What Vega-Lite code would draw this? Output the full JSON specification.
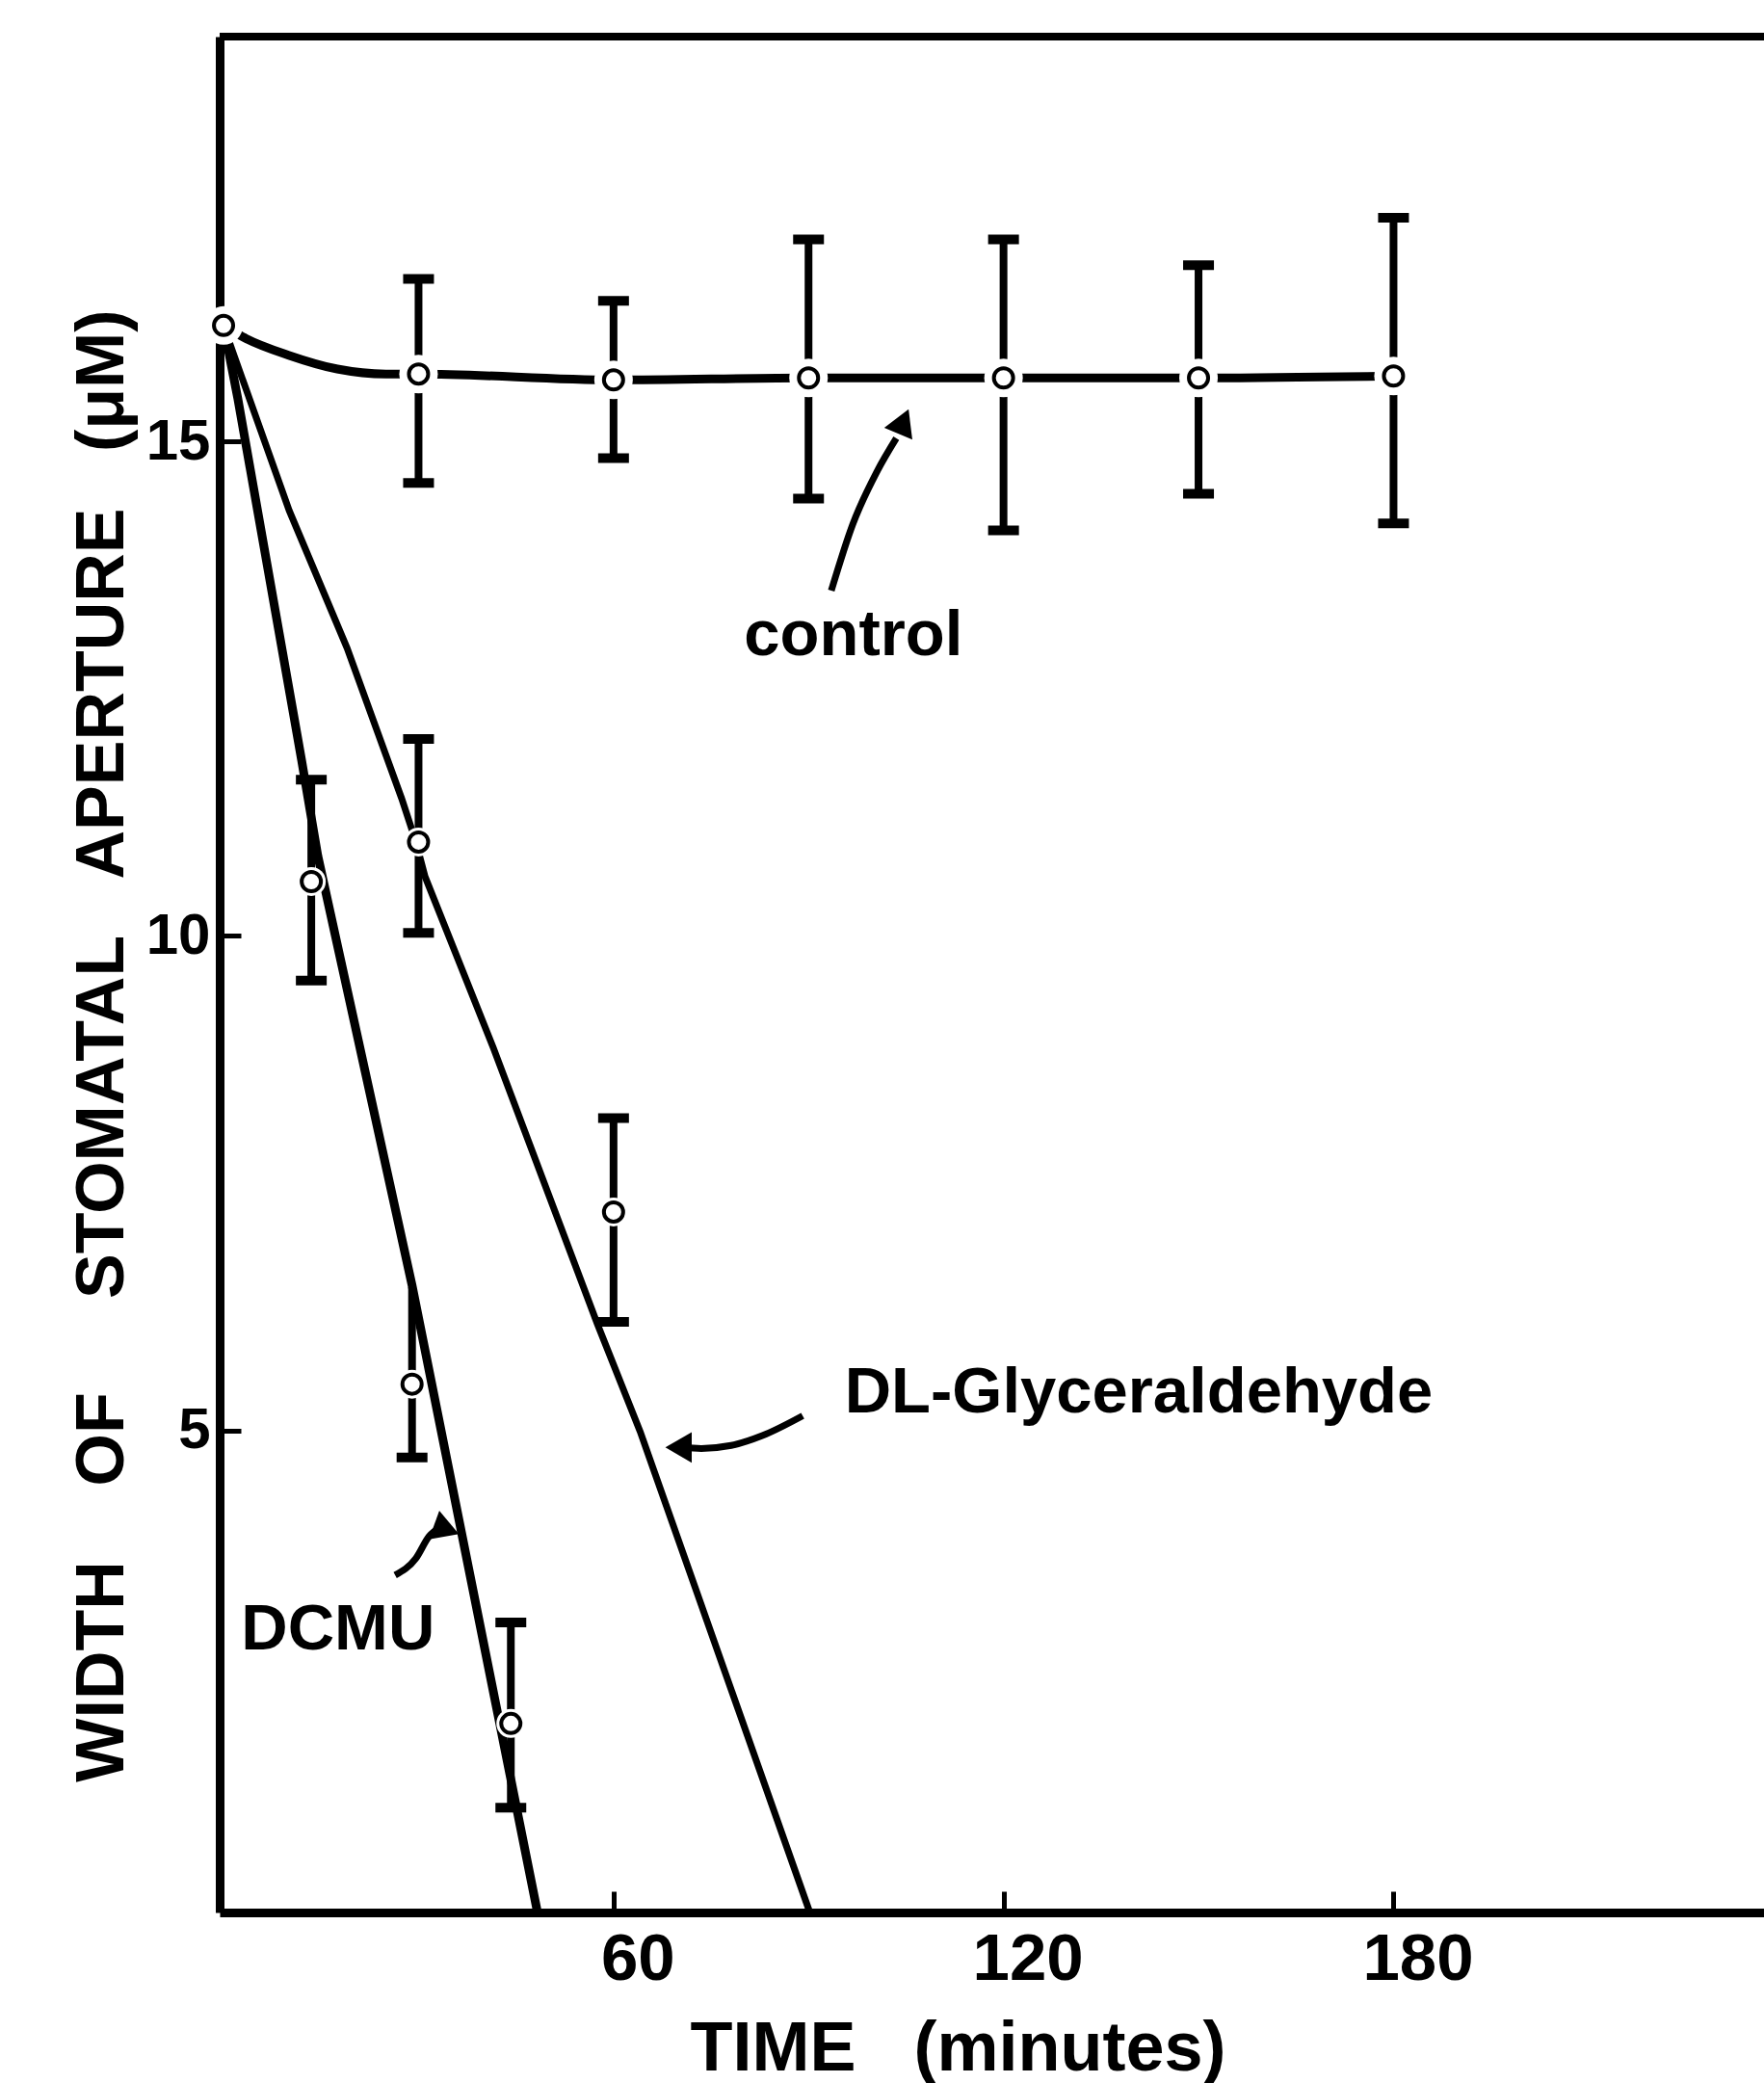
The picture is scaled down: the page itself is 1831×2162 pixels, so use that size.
{
  "$schema": "https://vega.github.io/schema/vega-lite/v6.json",
  "width": 1603,
  "height": 1947,
  "autosize": "none",
  "padding": {"left": 228, "top": 38, "right": 0, "bottom": 177},
  "background": "white",
  "config": {"view": {"stroke": null}, "font": "Liberation Sans"},
  "datasets": {
    "frame": [{"t": -0.6, "t2": 237, "v": 19.09}],
    "lines": [
      {"series": "control", "t": 0, "v": 16.17},
      {"series": "control", "t": 3.4, "v": 16.04},
      {"series": "control", "t": 10, "v": 15.87},
      {"series": "control", "t": 17.5, "v": 15.73},
      {"series": "control", "t": 25, "v": 15.68},
      {"series": "control", "t": 30, "v": 15.68},
      {"series": "control", "t": 60, "v": 15.62},
      {"series": "control", "t": 90, "v": 15.64},
      {"series": "control", "t": 120, "v": 15.64},
      {"series": "control", "t": 150, "v": 15.64},
      {"series": "control", "t": 180, "v": 15.66},
      {"series": "DL", "t": 0, "v": 16.17},
      {"series": "DL", "t": 1.6, "v": 15.87},
      {"series": "DL", "t": 10.1, "v": 14.3},
      {"series": "DL", "t": 19.0, "v": 12.91},
      {"series": "DL", "t": 27.4, "v": 11.39},
      {"series": "DL", "t": 29.6, "v": 10.95},
      {"series": "DL", "t": 31.0, "v": 10.6},
      {"series": "DL", "t": 41.5, "v": 8.87},
      {"series": "DL", "t": 57.5, "v": 6.08},
      {"series": "DL", "t": 64.1, "v": 4.99},
      {"series": "DL", "t": 90.2, "v": 0.13},
      {"series": "DCMU", "t": 0, "v": 16.17},
      {"series": "DCMU", "t": 2.2, "v": 15.43},
      {"series": "DCMU", "t": 12.0, "v": 11.78},
      {"series": "DCMU", "t": 14.5, "v": 10.81},
      {"series": "DCMU", "t": 29.0, "v": 6.47},
      {"series": "DCMU", "t": 48.3, "v": 0.13}
    ],
    "points": [
      {"series": "control", "t": 0, "v": 16.17},
      {"series": "control", "t": 30, "v": 15.68},
      {"series": "control", "t": 60, "v": 15.62},
      {"series": "control", "t": 90, "v": 15.64},
      {"series": "control", "t": 120, "v": 15.64},
      {"series": "control", "t": 150, "v": 15.64},
      {"series": "control", "t": 180, "v": 15.66},
      {"series": "DL", "t": 30, "v": 10.95},
      {"series": "DL", "t": 60, "v": 7.21},
      {"series": "DCMU", "t": 13.5, "v": 10.55},
      {"series": "DCMU", "t": 29, "v": 5.47},
      {"series": "DCMU", "t": 44.2, "v": 2.04}
    ],
    "errbars": [
      {"series": "control", "t": 30, "v": 14.58, "v2": 16.64},
      {"series": "control", "t": 60, "v": 14.83, "v2": 16.42},
      {"series": "control", "t": 90, "v": 14.42, "v2": 17.04},
      {"series": "control", "t": 120, "v": 14.1, "v2": 17.04},
      {"series": "control", "t": 150, "v": 14.47, "v2": 16.78},
      {"series": "control", "t": 180, "v": 14.17, "v2": 17.26},
      {"series": "DL", "t": 30, "v": 10.03, "v2": 11.99},
      {"series": "DL", "t": 60, "v": 6.1, "v2": 8.16},
      {"series": "DCMU", "t": 13.5, "v": 9.55, "v2": 11.58},
      {"series": "DCMU", "t": 29, "v": 4.73, "v2": 6.45},
      {"series": "DCMU", "t": 44.2, "v": 1.19, "v2": 3.06}
    ],
    "caps": [
      {"t": 30, "v": 14.58}, {"t": 30, "v": 16.64},
      {"t": 60, "v": 14.83}, {"t": 60, "v": 16.42},
      {"t": 90, "v": 14.42}, {"t": 90, "v": 17.04},
      {"t": 120, "v": 14.1}, {"t": 120, "v": 17.04},
      {"t": 150, "v": 14.47}, {"t": 150, "v": 16.78},
      {"t": 180, "v": 14.17}, {"t": 180, "v": 17.26},
      {"t": 30, "v": 10.03}, {"t": 30, "v": 11.99},
      {"t": 60, "v": 6.1}, {"t": 60, "v": 8.16},
      {"t": 13.5, "v": 9.55}, {"t": 13.5, "v": 11.58},
      {"t": 29, "v": 4.73},
      {"t": 44.2, "v": 1.19}, {"t": 44.2, "v": 3.06}
    ],
    "arrows": [
      {"id": "control", "t": 93.5, "v": 13.49},
      {"id": "control", "t": 96.8, "v": 14.16},
      {"id": "control", "t": 100.5, "v": 14.69},
      {"id": "control", "t": 103.5, "v": 15.03},
      {"id": "DL", "t": 70.5, "v": 4.83},
      {"id": "DL", "t": 73.5, "v": 4.82},
      {"id": "DL", "t": 78.1, "v": 4.85},
      {"id": "DL", "t": 82.9, "v": 4.95},
      {"id": "DL", "t": 89.1, "v": 5.15},
      {"id": "DCMU", "t": 26.4, "v": 3.54},
      {"id": "DCMU", "t": 29.6, "v": 3.71},
      {"id": "DCMU", "t": 31.6, "v": 3.93},
      {"id": "DCMU", "t": 33.5, "v": 4.03}
    ],
    "heads": [
      {"id": "control", "t": 104.6, "v": 15.2},
      {"id": "DL", "t": 70.0, "v": 4.83},
      {"id": "DCMU", "t": 34.3, "v": 4.0}
    ],
    "labels": [
      {"label": "control", "t": 96.9, "v": 12.84},
      {"label": "DL-Glyceraldehyde", "t": 140.8, "v": 5.18},
      {"label": "DCMU", "t": 17.6, "v": 2.79}
    ]
  },
  "encoding": {
    "x": {
      "field": "t", "type": "quantitative",
      "scale": {"domain": [-0.6, 237], "nice": false, "zero": false},
      "axis": {
        "values": [60, 120, 180],
        "title": "TIME\u00a0\u00a0\u00a0(minutes)",
        "titleFont": "Liberation Sans", "titleFontSize": 72, "titleFontWeight": "bold", "titleColor": "black",
        "titleX": 766, "titleY": 163, "titleAlign": "center", "titleBaseline": "alphabetic",
        "labelFont": "Liberation Sans", "labelFontSize": 69, "labelFontWeight": "bold", "labelColor": "black",
        "labelOffset": 25, "labelPadding": 36, "labelFlush": false, "labelOverlap": false,
        "tickSize": -22, "tickWidth": 5, "tickColor": "black",
        "domainWidth": 9, "domainColor": "black", "grid": false
      }
    },
    "y": {
      "field": "v", "type": "quantitative",
      "scale": {"domain": [0.13, 19.09], "nice": false, "zero": false},
      "axis": {
        "values": [5, 10, 15],
        "title": "WIDTH\u00a0\u00a0\u00a0\u00a0OF\u00a0\u00a0\u00a0\u00a0\u00a0STOMATAL\u00a0\u00a0\u00a0APERTURE\u00a0\u00a0\u00a0(μM)",
        "titleFont": "Liberation Sans", "titleFontSize": 70, "titleFontWeight": "bold", "titleColor": "black",
        "titleX": -101, "titleY": 1047, "titleAngle": 270, "titleAlign": "center", "titleBaseline": "alphabetic",
        "labelFont": "Liberation Sans", "labelFontSize": 60, "labelFontWeight": "bold", "labelColor": "black",
        "labelPadding": 32, "labelFlush": false, "labelOverlap": false,
        "tickSize": -22, "tickWidth": 5, "tickColor": "black",
        "domainWidth": 9, "domainColor": "black", "grid": false
      }
    }
  },
  "layer": [
    {
      "data": {"name": "frame"},
      "mark": {"type": "rule", "color": "black", "strokeWidth": 8},
      "encoding": {"x2": {"field": "t2"}}
    },
    {
      "data": {"name": "lines"},
      "transform": [{"filter": "datum.series === 'control'"}],
      "mark": {"type": "line", "color": "black", "strokeWidth": 9, "interpolate": "monotone"},
      "encoding": {}
    },
    {
      "data": {"name": "lines"},
      "transform": [{"filter": "datum.series === 'DL'"}],
      "mark": {"type": "line", "color": "black", "strokeWidth": 7},
      "encoding": {}
    },
    {
      "data": {"name": "lines"},
      "transform": [{"filter": "datum.series === 'DCMU'"}],
      "mark": {"type": "line", "color": "black", "strokeWidth": 9},
      "encoding": {}
    },
    {
      "data": {"name": "errbars"},
      "mark": {"type": "rule", "color": "black", "strokeWidth": 8},
      "encoding": {"y2": {"field": "v2"}}
    },
    {
      "data": {"name": "caps"},
      "mark": {"type": "tick", "orient": "horizontal", "color": "black", "size": 32, "thickness": 10, "opacity": 1}
    },
    {
      "data": {"name": "points"},
      "transform": [{"filter": "datum.series === 'control'"}],
      "mark": {"type": "point", "shape": "circle", "filled": true, "color": "white", "size": 1600, "opacity": 1, "strokeWidth": 0}
    },
    {
      "data": {"name": "points"},
      "transform": [{"filter": "datum.series !== 'control'"}],
      "mark": {"type": "point", "shape": "circle", "filled": true, "color": "white", "size": 900, "opacity": 1, "strokeWidth": 0}
    },
    {
      "data": {"name": "points"},
      "mark": {"type": "point", "shape": "circle", "filled": true, "fill": "white", "stroke": "black", "strokeWidth": 4, "size": 400, "opacity": 1}
    },
    {
      "data": {"name": "arrows"},
      "mark": {"type": "line", "color": "black", "strokeWidth": 7, "interpolate": "monotone"},
      "encoding": {"detail": {"field": "id"}}
    },
    {
      "data": {"name": "heads"},
      "transform": [{"filter": "datum.id === 'control'"}],
      "mark": {"type": "point", "shape": "triangle-up", "filled": true, "color": "black", "size": 1000, "angle": 23, "opacity": 1}
    },
    {
      "data": {"name": "heads"},
      "transform": [{"filter": "datum.id === 'DL'"}],
      "mark": {"type": "point", "shape": "triangle-up", "filled": true, "color": "black", "size": 1000, "angle": 270, "opacity": 1}
    },
    {
      "data": {"name": "heads"},
      "transform": [{"filter": "datum.id === 'DCMU'"}],
      "mark": {"type": "point", "shape": "triangle-up", "filled": true, "color": "black", "size": 1000, "angle": 110, "opacity": 1}
    },
    {
      "data": {"name": "labels"},
      "mark": {"type": "text", "font": "Liberation Sans", "fontSize": 67, "fontWeight": "bold", "color": "black", "align": "center", "baseline": "alphabetic"},
      "encoding": {"text": {"field": "label"}}
    }
  ]
}
